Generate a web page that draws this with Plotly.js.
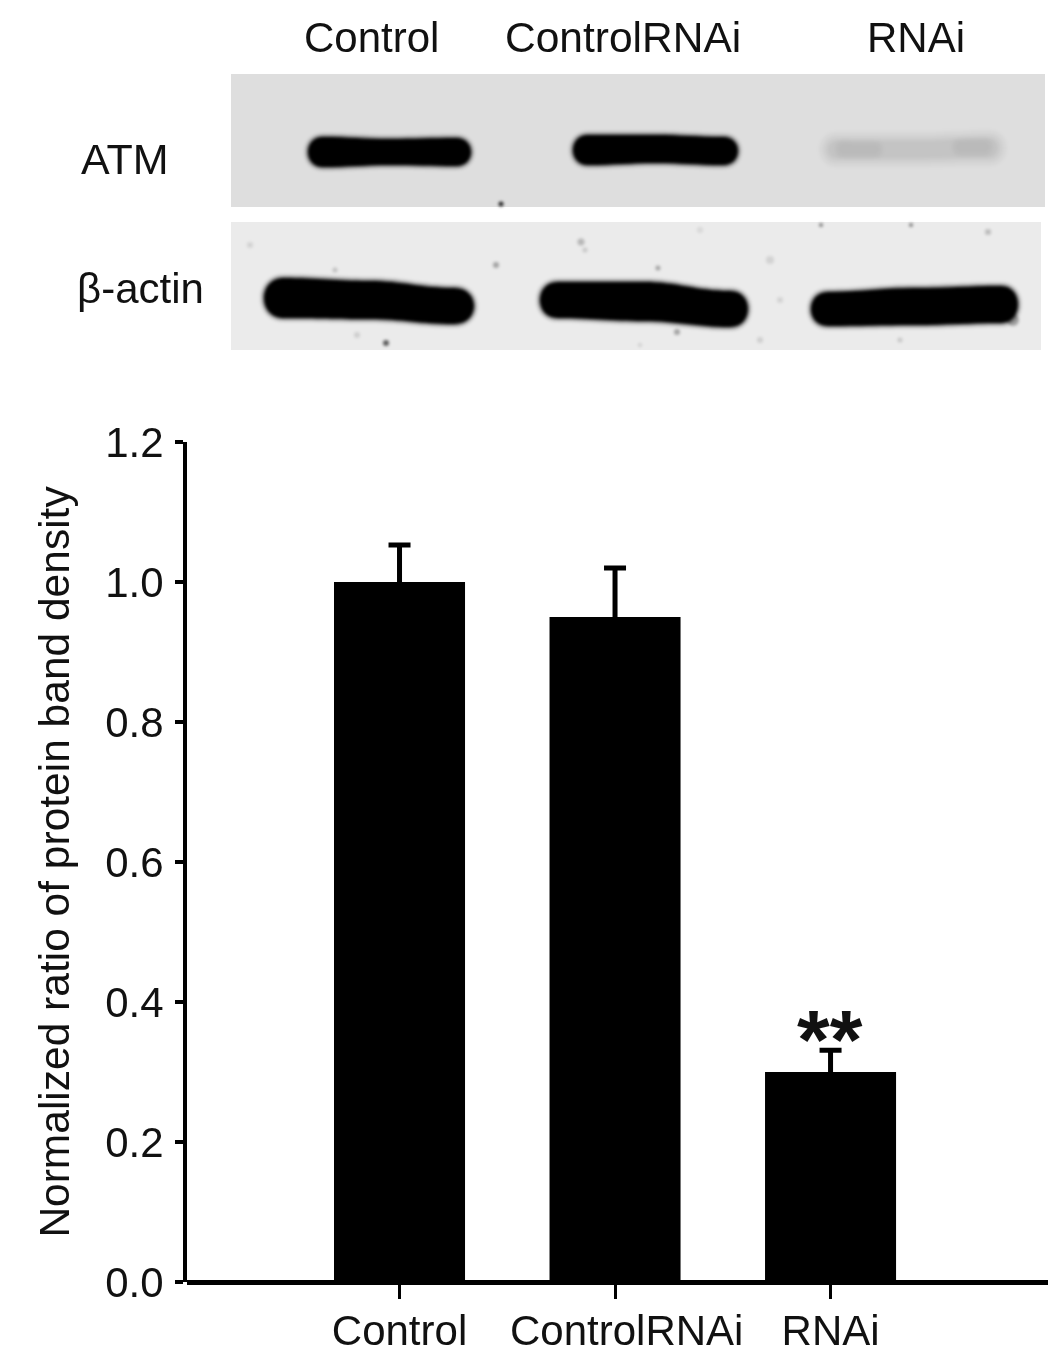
<!DOCTYPE html>
<html>
<head>
<meta charset="utf-8">
<script src="https://cdn.plot.ly/plotly-3.0.1.min.js"></script>
<style>
html,body{margin:0;padding:0;background:#fff}
#chart{width:1063px;height:1358px}
#chart .main-svg{filter:blur(0.5px)}
#chart .layer-above .shapelayer{filter:blur(1.4px)}
</style>
</head>
<body>
<div id="chart"></div>
<script>
// Chart data
const categories = ['Control', 'ControlRNAi', 'RNAi'];
const categoryTickText = ['Control', '&nbsp;&nbsp;ControlRNAi', 'RNAi'];
const ratioValues = [1.0, 0.95, 0.30];
const ratioErrors = [0.053, 0.07, 0.031];
const yTicks = [0, 0.2, 0.4, 0.6, 0.8, 1.0, 1.2];
const yTickText = ['0.0', '0.2', '0.4', '0.6', '0.8', '1.0', '1.2'];

const W = 1063, H = 1358;
const px = x => (x / W).toFixed(5);
const py = y => (1 - y / H).toFixed(5);
const pt = (x, y) => px(x) + ',' + py(y);

// Western blot picture: [x0, x1, topL, topM, topR, botL, botM, botR]
const atmBands = [
  [308, 471, 137, 139, 138, 167, 165, 166],
  [573, 738, 135, 135, 137, 165, 163, 165]
];
const actinBands = [
  [264, 474, 278, 281, 288, 318, 319, 324],
  [540, 748, 282, 282, 291, 318, 321, 327],
  [811, 1018, 292, 288, 286, 326, 325, 323]
];
const faintWash = [[828, 998, 141, 141, 139, 158, 158, 157]];
const faintBlobs = [
  [838, 880, 143, 144, 144, 155, 155, 155],
  [955, 990, 141, 141, 141, 153, 153, 153]
];
const specks = [
  [501, 204, 2.5, .8], [581, 242, 3.5, .22], [496, 265, 3, .3], [658, 268, 2.5, .3],
  [677, 332, 3, .3], [386, 343, 3, .6], [821, 225, 2, .45], [911, 225, 2, .45],
  [988, 232, 3, .2], [1013, 320, 6, .3], [335, 270, 2.5, .18], [585, 250, 2.5, .15],
  [770, 260, 4, .1], [780, 300, 3, .1], [760, 340, 3, .12], [357, 335, 3, .12],
  [900, 340, 2.5, .15], [640, 345, 2, .12], [250, 245, 3, .1], [700, 230, 3, .08]
];

function bandPath(b, e) {
  const x0 = b[0] - e, x1 = b[1] + e;
  const tl = b[2] - e, tm = b[3] - e, tr = b[4] - e, bl = b[5] + e, bm = b[6] + e, br = b[7] + e;
  const r = (bl - tl) * 0.5;
  const xm = (x0 + x1) / 2;
  const s = (x1 - x0) * 0.16;
  return 'M' + pt(x0 + r, tl) +
    ' C' + pt(x0 + r + s, tl) + ' ' + pt(xm - s, tm) + ' ' + pt(xm, tm) +
    ' C' + pt(xm + s, tm) + ' ' + pt(x1 - r - s, tr) + ' ' + pt(x1 - r, tr) +
    ' C' + pt(x1 + r * 0.33, tr) + ' ' + pt(x1 + r * 0.33, br) + ' ' + pt(x1 - r, br) +
    ' C' + pt(x1 - r - s, br) + ' ' + pt(xm + s, bm) + ' ' + pt(xm, bm) +
    ' C' + pt(xm - s, bm) + ' ' + pt(x0 + r + s, bl) + ' ' + pt(x0 + r, bl) +
    ' C' + pt(x0 - r * 0.33, bl) + ' ' + pt(x0 - r * 0.33, tl) + ' ' + pt(x0 + r, tl) + ' Z';
}
function bandShapes(b, layers) {
  return layers.map(l => ({
    type: 'path', xref: 'paper', yref: 'paper', path: bandPath(b, l[0]),
    fillcolor: '#000', opacity: l[1], line: { width: 0 }, layer: 'above'
  }));
}
const solid = [[4, .12], [2, .3], [0, 1]];
const wash = [[10, .015], [8, .02], [6, .02], [4, .025], [2, .025], [0, .03]];
const blob = [[5, .015], [3, .02], [0, .025]];
const rect = (x0, x1, y0, y1, fill) => ({
  type: 'rect', xref: 'paper', yref: 'paper', x0: +px(x0), x1: +px(x1), y0: +py(y1), y1: +py(y0),
  fillcolor: fill, line: { width: 0 }, layer: 'below'
});

const shapes = [
  rect(231, 1045, 74, 207, '#dedede'),
  rect(231, 1041, 222, 350, '#ebebeb')
];
atmBands.forEach(b => shapes.push(...bandShapes(b, solid)));
faintWash.forEach(b => shapes.push(...bandShapes(b, wash)));
faintBlobs.forEach(b => shapes.push(...bandShapes(b, blob)));
actinBands.forEach(b => shapes.push(...bandShapes(b, solid)));
specks.forEach(s => shapes.push({
  type: 'circle', xref: 'paper', yref: 'paper',
  x0: +px(s[0] - s[2]), x1: +px(s[0] + s[2]), y0: +py(s[1] + s[2]), y1: +py(s[1] - s[2]),
  fillcolor: '#000', opacity: s[3], line: { width: 0 }, layer: 'above'
}));

const FONT = 'Liberation Sans, Arial, sans-serif';
const note = (text, x, y, size) => ({
  text, xref: 'paper', yref: 'paper', x: +px(x), y: +py(y),
  xanchor: 'center', yanchor: 'middle', showarrow: false,
  font: { family: FONT, size, color: '#111' }
});

const annotations = [
  note('Control', 372, 38, 42),
  note('ControlRNAi', 623, 38, 42.5),
  note('RNAi', 916, 38, 42),
  note('ATM', 125, 159, 43),
  note('β-actin', 141, 289, 42),
  note('<b>**</b>', 830, 1040, 84)
];

const trace = {
  type: 'bar',
  x: categories,
  y: ratioValues,
  width: 0.608,
  marker: { color: '#000', line: { width: 0 } },
  error_y: { type: 'data', array: ratioErrors, visible: true, color: '#000', thickness: 5, width: 11 },
  hoverinfo: 'skip'
};

const layout = {
  width: W, height: H,
  margin: { l: 0, r: 0, t: 0, b: 0, pad: 0 },
  paper_bgcolor: '#fff', plot_bgcolor: '#fff',
  showlegend: false,
  font: { family: FONT, color: '#111' },
  xaxis: {
    domain: [187 / W, 1048 / W],
    type: 'category',
    range: [-0.9861, 3.009],
    tickmode: 'array', tickvals: categories, ticktext: categoryTickText,
    ticks: 'outside', ticklen: 16, tickwidth: 3, tickcolor: '#000',
    showline: false, showgrid: false, zeroline: false,
    ticklabelstandoff: -4,
    tickfont: { family: FONT, size: 42, color: '#111' }, automargin: false
  },
  yaxis: {
    domain: [(H - 1282) / H, (H - 442) / H],
    range: [0, 1.2],
    tickmode: 'array', tickvals: yTicks, ticktext: yTickText,
    ticks: 'outside', ticklen: 8, tickwidth: 4, tickcolor: '#000',
    showline: true, linewidth: 4, linecolor: '#000', showgrid: false,
    zeroline: true, zerolinewidth: 5, zerolinecolor: '#000',
    ticklabelstandoff: 3,
    tickfont: { family: FONT, size: 42, color: '#111' }, automargin: false,
    title: { text: 'Normalized ratio of protein band density', font: { family: FONT, size: 42.5, color: '#111' }, standoff: 23 }
  },
  shapes, annotations
};
Plotly.newPlot('chart', [trace], layout, { displayModeBar: false, staticPlot: true });
</script>
</body>
</html>
